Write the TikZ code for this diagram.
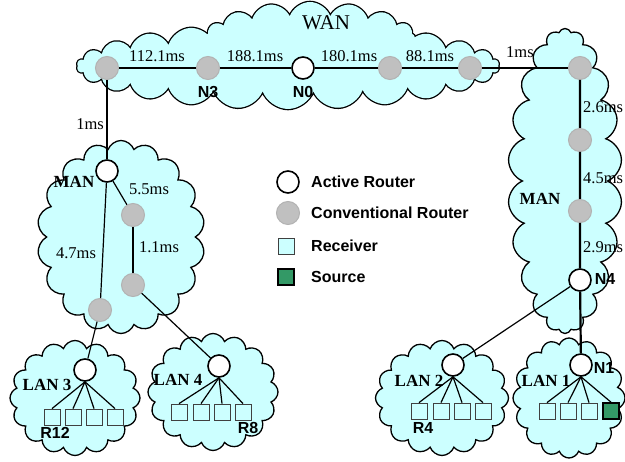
\documentclass[tikz,border=0pt]{standalone}
\usepackage{fontspec}
\setmainfont{Liberation Serif}
\setsansfont{Liberation Sans}
\usetikzlibrary{shapes.symbols}
\definecolor{cloudfill}{HTML}{CCFFFF}
\definecolor{convgray}{HTML}{C0C0C0}
\definecolor{srcgreen}{HTML}{339966}
\begin{document}
\begin{tikzpicture}[x=1pt,y=-1pt,
  net/.style={cloud, cloud puffs=#1, cloud puff arc=140, cloud ignores aspect, draw=black, line width=1.3pt, fill=cloudfill, inner sep=0pt},
  active/.style={circle, draw=black, line width=1.6pt, fill=white, minimum size=22pt, inner sep=0pt},
  conv/.style={circle, draw=black!30, line width=1pt, fill=convgray, minimum size=23pt, inner sep=0pt},
  rcv/.style={rectangle, draw=black!75, line width=0.8pt, fill=cloudfill, minimum size=16pt, inner sep=0pt},
  src/.style={rcv, draw=black, line width=1.6pt, fill=srcgreen},
  link/.style={line width=1.2pt},
  trunk/.style={line width=2.2pt},
  delay/.style={inner sep=0pt, font=\fontsize{16.5}{19}\selectfont},
  tag/.style={inner sep=0pt, font=\sffamily\bfseries\fontsize{16}{19}\selectfont},
  netname/.style={inner sep=0pt, font=\bfseries\fontsize{17}{20}\selectfont},
  legend/.style={inner sep=0pt, anchor=west, font=\sffamily\bfseries\fontsize{16}{19}\selectfont}]
\useasboundingbox (0,0) rectangle (625,462);
% clouds (WAN is two clouds merged: outlines first, then fill over them)
\node[net=26, minimum width=422pt, minimum height=86pt, line width=2.6pt] (wan) at (288,66) {};
\node[net=16, minimum width=210pt, minimum height=72pt, line width=2.6pt] (wantop) at (310,38) {};
\node[net=26, minimum width=422pt, minimum height=86pt, draw=none] (wanfill) at (288,66) {};
\node[net=16, minimum width=210pt, minimum height=72pt, draw=none] (wantopfill) at (310,38) {};
\node[net=22, minimum width=114pt, minimum height=305pt] (manR) at (565,181) {};
\node[net=18, minimum width=168pt, minimum height=193pt] (manL) at (121,237) {};
\node[net=16, minimum width=130pt, minimum height=115pt] (lan3) at (75,398) {};
\node[net=16, minimum width=130pt, minimum height=117pt] (lan4) at (213,392) {};
\node[net=16, minimum width=133pt, minimum height=115pt] (lan2) at (442,398) {};
\node[net=16, minimum width=112pt, minimum height=120pt] (lan1) at (569,398) {};
\node[inner sep=0pt, font=\fontsize{21}{25}\selectfont] (wanname) at (326,23) {WAN};
\node[netname] (manLname) at (74,182) {MAN};
\node[netname] (manRname) at (540,199) {MAN};
\node[netname] (lan3name) at (47,385) {LAN 3};
\node[netname] (lan4name) at (178,380) {LAN 4};
\node[netname] (lan2name) at (419,381) {LAN 2};
\node[netname] (lan1name) at (546,381) {LAN 1};
% routers
\node[conv] (w1) at (107,68) {};
\node[conv] (n3) at (208,68) {};
\node[active] (n0) at (303,68) {};
\node[conv] (w4) at (390,68) {};
\node[conv] (w5) at (470,68) {};
\node[conv] (r1) at (580,68) {};
\node[conv] (r2) at (580,140) {};
\node[conv] (r3) at (580,211) {};
\node[active] (n4) at (580,280) {};
\node[active] (m0) at (107,171) {};
\node[conv] (m1) at (133,215) {};
\node[conv] (m2) at (133,285) {};
\node[conv] (m3) at (100,310) {};
\node[active] (l3) at (85,370) {};
\node[active] (l4) at (219,366) {};
\node[active] (l2) at (453,365) {};
\node[active] (n1) at (581,365) {};
% receivers
\foreach \x [count=\i] in {52,73,94,115} \node[rcv] (a\i) at (\x,417) {};
\foreach \x [count=\i] in {179,201,222,243} \node[rcv] (b\i) at (\x,412) {};
\foreach \x [count=\i] in {419,441,462,483} \node[rcv] (c\i) at (\x,411) {};
\foreach \x [count=\i] in {547,568,589} \node[rcv] (d\i) at (\x,411) {};
\node[src] (d4) at (611,411) {};
\foreach \i in {1,...,4} {
  \draw[link] (l3.south) -- (a\i.north);
  \draw[link] (l4.south) -- (b\i.north);
  \draw[link] (l2.south) -- (c\i.north);
  \draw[link] (n1.south) -- (d\i.north);
}
% links
\draw[trunk] (w1) -- (n3) -- (n0) -- (w4) -- (w5);
\draw[link] (w5) -- (r1);
\draw[trunk] (r1) -- (r2) -- (r3) -- (n4) -- (n1);
\draw[link] (w1) -- (m0);
\draw[link] (m0) -- (m1);
\draw[trunk] (m1) -- (m2);
\draw[link] (m0) -- (m3);
\draw[link] (m3) -- (l3);
\draw[link] (m2) -- (l4);
\draw[link] (n4) -- (l2);
% delays
\node[delay] (d112) at (157,56) {112.1ms};
\node[delay] (d188) at (255,56) {188.1ms};
\node[delay] (d180) at (349,56) {180.1ms};
\node[delay] (d88) at (430,56) {88.1ms};
\node[delay] (dwr) at (520,52) {1ms};
\node[delay, anchor=east] (dwl) at (104,124) {1ms};
\node[delay] (d55) at (149,189) {5.5ms};
\node[delay] (d11) at (159,247) {1.1ms};
\node[delay] (d47) at (76,253) {4.7ms};
\node[delay, anchor=west] (d26) at (583,107) {2.6ms};
\node[delay, anchor=west] (d45) at (583,178) {4.5ms};
\node[delay, anchor=west] (d29) at (583,247) {2.9ms};
% tags
\node[tag] (tn3) at (208,92) {N3};
\node[tag] (tn0) at (303,92) {N0};
\node[tag] (tn4) at (605,279) {N4};
\node[tag] (tn1) at (604,368) {N1};
\node[tag] (tr12) at (55,433) {R12};
\node[tag] (tr8) at (248,428) {R8};
\node[tag] (tr4) at (423,428) {R4};
% legend
\node[active] (kact) at (288,182) {};
\node[conv] (kconv) at (288,213) {};
\node[rcv] (krcv) at (286,246) {};
\node[src] (ksrc) at (286,277) {};
\node[legend] (tact) at (311,182) {Active Router};
\node[legend] (tconv) at (311,213) {Conventional Router};
\node[legend] (trcv) at (311,246) {Receiver};
\node[legend] (tsrc) at (311,277) {Source};
\end{tikzpicture}
\end{document}
